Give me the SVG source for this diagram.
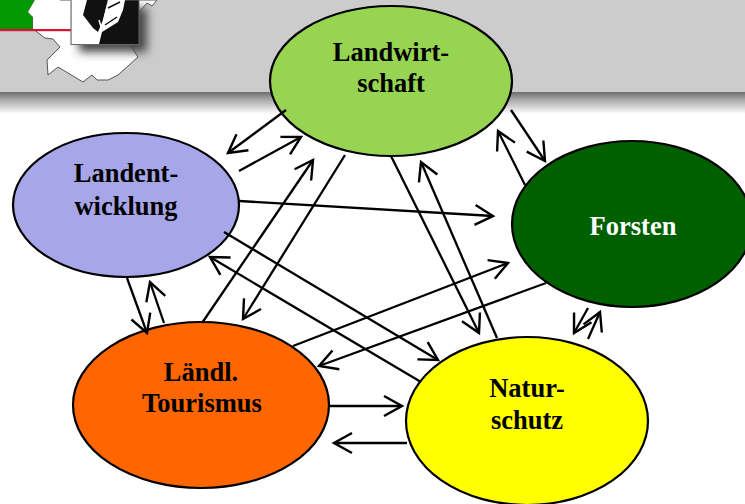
<svg xmlns="http://www.w3.org/2000/svg" width="745" height="504" viewBox="0 0 745 504">
<defs>
<linearGradient id="sh" x1="0" y1="0" x2="0" y2="1"><stop offset="0" stop-color="#6e6e6e"/><stop offset="0.35" stop-color="#a8a8a8"/><stop offset="1" stop-color="#ffffff"/></linearGradient>
<filter id="blur" x="-40%" y="-40%" width="180%" height="180%"><feGaussianBlur stdDeviation="5"/></filter>
<marker id="a" markerUnits="userSpaceOnUse" markerWidth="32" markerHeight="32" refX="20" refY="12" orient="auto"><path d="M2 2L20 12L2 22" fill="none" stroke="#000" stroke-width="2.4"/></marker>
</defs>
<style>
.n{stroke:#000;stroke-width:2.2}
.t{font-family:"Liberation Serif","Times New Roman",serif;font-weight:bold;font-size:26.5px;text-anchor:middle;fill:#000}
#c line{stroke:#000;stroke-width:2.3;marker-end:url(#a)}
</style>
<rect width="745" height="504" fill="#fff"/>
<g id="header">
<rect x="0" y="0" width="745" height="92" fill="#cccccc"/>
<rect x="0" y="92" width="745" height="22" fill="url(#sh)"/>
<rect x="0" y="0" width="36" height="29" fill="#009900"/>
<path d="M35 0L28 12L33 17V29L45 38L53 39L60 47L47 60L48 75L58 67L83 82L92 75L97 80L108 80L118 75L138 57L130 45L139 12L147 3L152 6L157 0Z" fill="#fff" stroke="#555" stroke-width="1"/>
<path d="M35 0L28 12L33 17V29H60V0Z" fill="#fff"/>
<rect x="0" y="29" width="71" height="2.2" fill="#dd1133"/>
<rect x="79" y="8" width="68" height="44" fill="#444" filter="url(#blur)"/>
<rect x="71" y="0" width="68" height="44.5" fill="#111" stroke="#666" stroke-width="1"/>
<path d="M71.500 0H108L102 32L99 44H71.500Z" fill="#fff"/>
<path d="M87 0L83 15L93 28L98 32L103 20L108 0Z" fill="#111"/>
<path d="M108 0H125L123 10L118 22L102 32L103 20Z" fill="#fff"/>
<path d="M108 8L120 2M105 25L117 17" stroke="#111" stroke-width="1.500" fill="none"/>
<path d="M99 20L102 30" stroke="#fff" stroke-width="1.500" fill="none"/>
</g>
<g id="landwirtschaft"><ellipse class="n" cx="391" cy="81" rx="121" ry="75" fill="#96d452"/><text class="t" x="391" y="61">Landwirt-</text><text class="t" x="391" y="92">schaft</text></g>
<g id="landentwicklung"><ellipse class="n" cx="126" cy="205" rx="113" ry="72" fill="#a6a6e8"/><text class="t" x="126" y="182">Landent-</text><text class="t" x="126" y="215">wicklung</text></g>
<g id="forsten"><ellipse class="n" cx="632" cy="224" rx="120" ry="83" fill="#006000"/><text class="t" x="633" y="235" style="fill:#fff">Forsten</text></g>
<g id="tourismus"><ellipse class="n" cx="201" cy="405" rx="128" ry="83" fill="#ff6600"/><text class="t" x="201" y="381">Ländl.</text><text class="t" x="202" y="412">Tourismus</text></g>
<g id="naturschutz"><ellipse class="n" cx="527" cy="421" rx="121" ry="84" fill="#ffff00"/><text class="t" x="527" y="397">Natur-</text><text class="t" x="527" y="429">schutz</text></g>
<g id="c">
<line x1="286" y1="110" x2="228" y2="153"/>
<line x1="239" y1="171" x2="301" y2="137"/>
<line x1="202" y1="323" x2="313" y2="160"/>
<line x1="345" y1="155" x2="243" y2="319"/>
<line x1="239" y1="201" x2="493" y2="216"/>
<line x1="224" y1="232" x2="438" y2="360"/>
<line x1="421" y1="382" x2="210" y2="257"/>
<line x1="127" y1="278" x2="147" y2="333"/>
<line x1="164" y1="323" x2="150" y2="282"/>
<line x1="330" y1="406" x2="402" y2="406"/>
<line x1="407" y1="443" x2="334" y2="443"/>
<line x1="293" y1="346" x2="508" y2="263"/>
<line x1="546" y1="283" x2="319" y2="366"/>
<line x1="391" y1="156" x2="479" y2="333"/>
<line x1="497" y1="338" x2="421" y2="162"/>
<line x1="511" y1="110" x2="545" y2="161"/>
<line x1="525" y1="185" x2="498" y2="131"/>
<line x1="588" y1="308" x2="574" y2="333"/>
<line x1="588" y1="339" x2="600" y2="312"/>
</g>
</svg>
